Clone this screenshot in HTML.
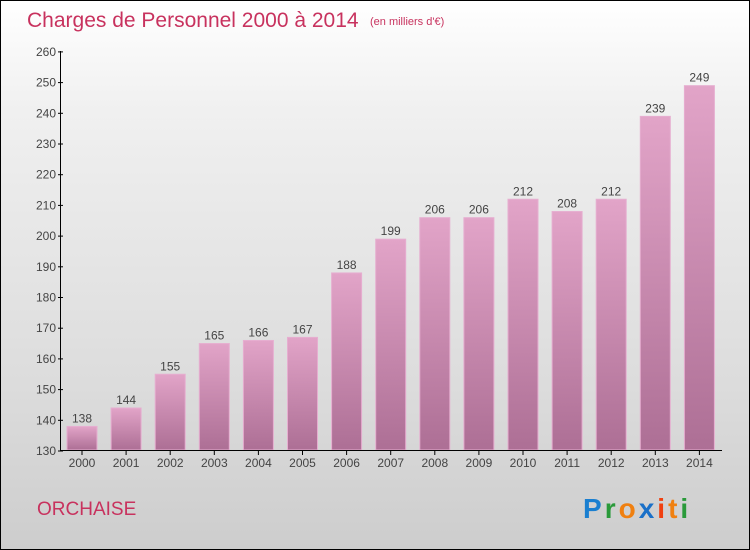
<!DOCTYPE html><html><head><meta charset="utf-8"><style>
body{margin:0}
#c{position:relative;width:748px;height:548px;border:1px solid #000;background:linear-gradient(#fff,#f0f0f0 20%,#dcdcdc 70%,#cdcdcd);font-family:"Liberation Sans",sans-serif;overflow:hidden}
</style></head><body><div id="c">
<svg width="748" height="548" style="position:absolute;left:0;top:0" font-family="Liberation Sans, sans-serif">
<defs><linearGradient id="g" x1="0" y1="0" x2="0" y2="1"><stop offset="0" stop-color="#e2a4c8"/><stop offset="1" stop-color="#ad6f95"/></linearGradient></defs>
<text x="26" y="26" font-size="21" fill="#c8325e">Charges de Personnel 2000 à 2014</text>
<text x="369" y="24" font-size="11" fill="#c8325e">(en milliers d'€)</text>
<g id="bars"></g>
<line x1="59.5" y1="50" x2="59.5" y2="450" stroke="#000"/>
<line x1="59" y1="449.5" x2="721" y2="449.5" stroke="#000"/>
<g id="ax" font-size="12" fill="#444"></g>
<text x="36" y="514" font-size="19" fill="#c8325e">ORCHAISE</text>
<text x="582" y="517" font-size="28" font-weight="bold" letter-spacing="3" fill="#1a7fd0">P<tspan fill="#2a9a3a">r</tspan><tspan fill="#f08010">o</tspan><tspan fill="#1a70c8">x</tspan><tspan fill="#f04010">i</tspan><tspan fill="#f08010">t</tspan><tspan fill="#2a9a3a">i</tspan></text>
</svg>
<script>
var v=[138,144,155,165,166,167,188,199,206,206,212,208,212,239,249],s='',a='';
function y(x){return 450-(x-130)*3.07}
for(var i=0;i<15;i++){var x=66+i*44.1,t=y(v[i]);
s+='<rect x="'+x+'" y="'+t+'" width="30" height="'+(449-t)+'" fill="url(#g)" stroke="#e6aed0" stroke-width="1"/>';
s+='<text x="'+(x+15)+'" y="'+(t-4)+'" font-size="12" fill="#444" text-anchor="middle">'+v[i]+'</text>';
a+='<text x="'+(x+15)+'" y="466" text-anchor="middle">'+(2000+i)+'</text><line x1="'+(x+15)+'" y1="450" x2="'+(x+15)+'" y2="454" stroke="#000"/>';}
for(var k=130;k<=260;k+=10){var t=y(k);a+='<text x="55" y="'+(t+4)+'" text-anchor="end">'+k+'</text><line x1="57" y1="'+t+'" x2="62" y2="'+t+'" stroke="#000"/>';}
document.getElementById('bars').innerHTML=s;document.getElementById('ax').innerHTML=a;
</script>
</div></body></html>
